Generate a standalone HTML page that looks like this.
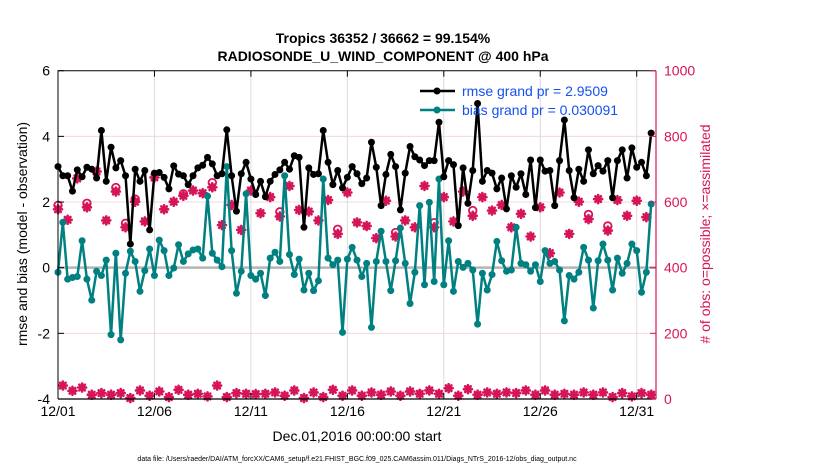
<!DOCTYPE html>
<html><head><meta charset="utf-8"><style>
body{margin:0;background:#fff;width:830px;height:470px;overflow:hidden;font-family:"Liberation Sans",sans-serif}
</style></head><body>
<svg id="chart" width="830" height="470" xmlns="http://www.w3.org/2000/svg" font-family="Liberation Sans, sans-serif">
<rect width="830" height="470" fill="#fff"/>
<text x="383" y="43" font-size="14" font-weight="bold" text-anchor="middle">Tropics 36352 / 36662 = 99.154%</text>
<text x="383" y="61" font-size="14" font-weight="bold" text-anchor="middle">RADIOSONDE_U_WIND_COMPONENT @ 400 hPa</text>
<g id="grid"></g>
<g id="marks"></g>
<g id="axes"></g>
<text x="357" y="441" font-size="14" text-anchor="middle">Dec.01,2016 00:00:00 start</text>
<text x="357" y="461" font-size="7" text-anchor="middle">data file: /Users/raeder/DAI/ATM_forcXX/CAM6_setup/f.e21.FHIST_BGC.f09_025.CAM6assim.011/Diags_NTrS_2016-12/obs_diag_output.nc</text>
<text transform="translate(27,234) rotate(-90)" font-size="14" text-anchor="middle">rmse and bias (model - observation)</text>
<text transform="translate(710,234) rotate(-90)" font-size="14" text-anchor="middle" fill="#d6145a"># of obs: o=possible; ×=assimilated</text>
<g>
<line x1="420" y1="91" x2="455" y2="91" stroke="#000" stroke-width="2.5"/><circle cx="437" cy="91" r="3.5" fill="#000"/>
<text x="462" y="96" font-size="14" fill="#1450f0">rmse grand pr = 2.9509</text>
<line x1="420" y1="110" x2="455" y2="110" stroke="#008080" stroke-width="2.5"/><circle cx="437" cy="110" r="3.5" fill="#008080"/>
<text x="462" y="115" font-size="14" fill="#1450f0">bias grand pr = 0.030091</text>
</g>
</svg>
<script>
const rmse=[3.08,2.8,2.8,2.33,2.98,2.77,3.06,3.0,2.73,4.18,2.63,3.67,3.04,3.26,2.8,0.72,3.0,2.63,2.96,1.15,2.88,2.9,2.75,2.4,3.1,2.85,2.8,2.53,2.8,3.04,3.12,3.36,
3.16,2.8,2.86,4.2,2.8,1.72,2.86,3.21,2.7,2.23,2.63,2.16,2.63,2.84,2.98,3.21,3.0,3.41,3.36,1.23,3.04,2.84,2.86,4.18,3.21,2.53,2.96,2.43,2.75,3.08,2.86,
2.56,2.73,3.82,3.06,1.89,2.84,3.45,3.08,1.76,2.88,3.69,3.38,3.28,3.11,3.26,3.26,4.43,2.77,3.26,3.14,1.28,3.04,1.96,2.96,5.0,2.63,2.96,2.88,2.4,2.73,1.79,
2.8,2.45,2.86,2.23,3.28,1.83,3.28,2.94,2.96,1.89,3.26,4.5,2.96,2.13,3.0,2.63,3.59,2.86,3.11,2.94,3.26,2.13,3.26,3.59,2.73,3.65,3.06,3.21,2.8,4.1];
const bias=[-0.14,1.38,-0.35,-0.3,-0.27,0.82,-0.35,-0.99,-0.11,-0.24,0.23,-2.04,0.44,-2.2,-0.17,0.5,0.19,-0.72,-0.09,0.57,-0.24,0.84,0.52,-0.24,-0.01,0.7,0.19,0.42,0.54,0.57,0.29,2.18,
0.44,0.23,0.03,3.08,0.52,-0.78,-0.11,2.25,-0.24,-0.35,-0.17,-0.85,0.29,0.47,0.19,2.8,0.4,-0.21,0.26,-0.68,-0.17,-0.7,-0.4,2.7,0.29,0.09,0.23,-1.97,0.26,0.62,0.23,
-0.27,0.13,-1.82,0.19,1.11,0.19,-0.7,0.21,1.21,0.13,-1.09,-0.14,1.89,-0.52,1.99,-0.42,2.7,-0.52,0.82,-0.72,0.19,0.01,0.13,-0.07,-1.72,-0.17,-0.68,-0.21,0.8,0.21,-0.11,
-0.07,1.23,0.13,0.09,-0.11,0.09,-0.42,0.52,0.13,0.19,-0.07,-1.62,-0.24,-0.35,-0.14,0.62,0.23,-1.23,0.21,0.72,0.23,-0.68,0.29,-0.17,0.13,0.72,0.52,-0.75,-0.14,1.94];
const nUsed=[578,41,546,25,672,35,584,13,693,18,544,13,632,18,523,3,601,26,541,10,675,23,578,6,601,28,619,13,635,16,627,8,
645,41,530,6,591,18,515,16,635,15,566,16,615,20,556,10,649,26,576,3,571,20,544,6,606,28,503,10,629,26,538,
10,527,20,490,13,604,23,495,10,544,23,523,16,649,26,523,16,615,33,541,10,632,30,558,13,615,20,574,16,591,20,
523,18,564,26,495,13,584,26,444,13,629,16,503,13,601,20,548,13,609,20,513,6,606,18,558,8,604,18,554,13];
const nPoss=nUsed.slice();
const extraIdx=[0,6,12,14,16,26,32,46,58,70,78,86,110,114];
const extraAmt=[12,12,12,12,8,6,14,14,14,12,14,16,14,14];
extraIdx.forEach((k,j)=>{nPoss[k]=nUsed[k]+extraAmt[j];});
const xTicks=[0,5,10,15,20,25,30];
const xTickLabels=["12/01","12/06","12/11","12/16","12/21","12/26","12/31"];
const yTicks=[6,4,2,0,-2,-4];
const y2Ticks=[0,200,400,600,800,1000];
const dt=0.25;

const L=58,R=656,T=70.7,B=399;
const X=d=>L+(d/31)*(R-L);
const Y=v=>B-(v+4)/10*(B-T);
const Y2=c=>B-c/1000*(B-T);
const NS="http://www.w3.org/2000/svg";
function mk(parent,tag,attrs){const e=document.createElementNS(NS,tag);for(const k in attrs)e.setAttribute(k,attrs[k]);parent.appendChild(e);return e;}
const grid=document.getElementById('grid'),marks=document.getElementById('marks'),axes=document.getElementById('axes');
yTicks.forEach(v=>{if(v===0||v===6||v===-4)return;const l=mk(grid,'line',{x1:L,x2:R,y1:Y(v),y2:Y(v),stroke:'#f0d8e0','stroke-width':1});

});
xTicks.forEach(d=>{if(d===0)return;const l=mk(grid,'line',{x1:X(d),x2:X(d),y1:T,y2:B,stroke:'#dcdcdc','stroke-width':1});

});
const zl=mk(grid,'line',{x1:L,x2:R,y1:Y(0),y2:Y(0),stroke:'#b4b4b4','stroke-width':2.5});



// possible circles & assimilated asterisks
const gObs=mk(marks,'g',{});


nPoss.forEach((c,i)=>{if(c===nUsed[i])return;const e=mk(gObs,'circle',{cx:X(i*dt),cy:Y2(c),r:3.8,fill:'none',stroke:'#d6145a','stroke-width':1.8});

});
nUsed.forEach((c,i)=>{const x=X(i*dt),y=Y2(c);const g=mk(gObs,'g',{stroke:'#d6145a','stroke-width':2.6,'stroke-linecap':'round'});


mk(g,'line',{x1:x-4,x2:x+4,y1:y,y2:y});mk(g,'line',{x1:x,x2:x,y1:y-4,y2:y+4});
mk(g,'line',{x1:x-2.8,x2:x+2.8,y1:y-2.8,y2:y+2.8});mk(g,'line',{x1:x-2.8,x2:x+2.8,y1:y+2.8,y2:y-2.8});});

function series(arr,color,name){const g=mk(marks,'g',{});


mk(g,'polyline',{points:arr.map((v,i)=>X(i*dt)+','+Y(v)).join(' '),fill:'none',stroke:color,'stroke-width':2.5,'stroke-linejoin':'round'});
arr.forEach((v,i)=>{const c=mk(g,'circle',{cx:X(i*dt),cy:Y(v),r:3.5,fill:color});

});}
series(bias,'#008080','bias-series');
series(rmse,'#000000','rmse-series');

// axes
const box=mk(axes,'path',{d:`M${L},${B}V${T}H${R}`,fill:'none',stroke:'#000','stroke-width':1});


const bx=mk(axes,'line',{x1:L,x2:R,y1:B,y2:B,stroke:'#000','stroke-width':1.2});


const ry=mk(axes,'line',{x1:R,x2:R,y1:T,y2:B,stroke:'#d6145a','stroke-width':1.2});


xTicks.forEach((d,i)=>{mk(axes,'line',{x1:X(d),x2:X(d),y1:B,y2:B-6,stroke:'#000'});mk(axes,'line',{x1:X(d),x2:X(d),y1:T,y2:T+6,stroke:'#000'});
const t=mk(axes,'text',{x:X(d),y:B+17,'font-size':14,'text-anchor':'middle'});t.textContent=xTickLabels[i];

});
yTicks.forEach(v=>{mk(axes,'line',{x1:L,x2:L+6,y1:Y(v),y2:Y(v),stroke:'#000'});
const t=mk(axes,'text',{x:L-8,y:Y(v)+5,'font-size':14,'text-anchor':'end'});t.textContent=v;

});
y2Ticks.forEach(c=>{mk(axes,'line',{x1:R-6,x2:R,y1:Y2(c),y2:Y2(c),stroke:'#d6145a'});
const t=mk(axes,'text',{x:R+8,y:Y2(c)+5,'font-size':14,fill:'#d6145a'});t.textContent=c;

});
</script>
</body></html>
